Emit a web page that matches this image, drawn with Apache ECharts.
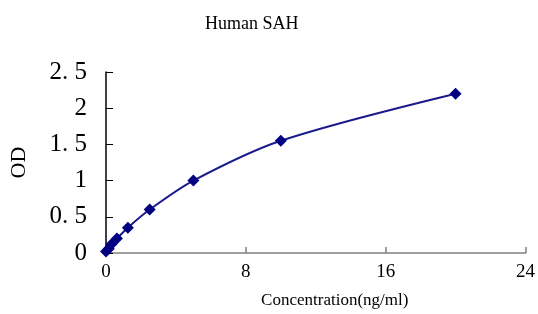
<!DOCTYPE html>
<html>
<head>
<meta charset="utf-8">
<script src="https://cdn.jsdelivr.net/npm/echarts@6/dist/echarts.min.js"></script>
<style>html,body{margin:0;padding:0;background:#fff;}#c{width:538px;height:314px;}</style>
</head>
<body>
<div id="c"></div>
<script>
const concentrations = [0, 0.156, 0.312, 0.625, 1.25, 2.5, 5, 10, 20];
const odValues = [0.02, 0.06, 0.12, 0.2, 0.35, 0.6, 1.0, 1.55, 2.2];
const titleText = 'Human SAH';
const xName = 'Concentration(ng/ml)';
const yName = 'OD';

const chart = echarts.init(document.getElementById('c'), null, {renderer: 'canvas'});
const serif = '"Liberation Serif", "Times New Roman", serif';
chart.setOption({
  animation: false,
  backgroundColor: '#fff',
  title: {
    text: titleText, left: 200, top: 10,
    textStyle: {fontFamily: serif, fontSize: 18, fontWeight: 'normal', color: '#000'}
  },
  grid: {left: 106, right: 12, top: 72, bottom: 52, containLabel: false},
  xAxis: {
    type: 'value', min: 0, max: 24, interval: 8,
    name: xName, nameLocation: 'middle', nameGap: 39,
    nameTextStyle: {fontFamily: serif, fontSize: 17, color: '#000', padding: [0, 0, 0, 38]},
    axisLine: {show: true, lineStyle: {color: '#808080', width: 1.5}},
    axisTick: {show: true, inside: true, length: 6, lineStyle: {color: '#808080', width: 1.5}},
    axisLabel: {fontFamily: serif, fontSize: 19, color: '#000', margin: 10},
    splitLine: {show: false}
  },
  yAxis: {
    type: 'value', min: 0, max: 2.5, interval: 0.5,
    name: yName, nameLocation: 'middle', nameGap: 76, nameRotate: 90,
    nameTextStyle: {fontFamily: serif, fontSize: 22, color: '#000'},
    axisLine: {show: true, lineStyle: {color: '#000', width: 1.5}},
    axisTick: {show: true, inside: true, length: 7, lineStyle: {color: '#000', width: 1}},
    axisLabel: {fontFamily: serif, fontSize: 25, color: '#000', margin: 19,
      verticalAlign: 'middle', lineHeight: 25, padding: [6, 0, 0, 0],
      formatter: v => String(v).replace('.', '. ')},
    splitLine: {show: false}
  },
  series: [{
    type: 'line',
    data: concentrations.map((c, i) => [c, odValues[i]]),
    smooth: 0.3,
    symbol: 'diamond', symbolSize: 12,
    itemStyle: {color: '#000080'},
    lineStyle: {color: '#1a1a8c', width: 2}
  }]
});
</script>
</body>
</html>
